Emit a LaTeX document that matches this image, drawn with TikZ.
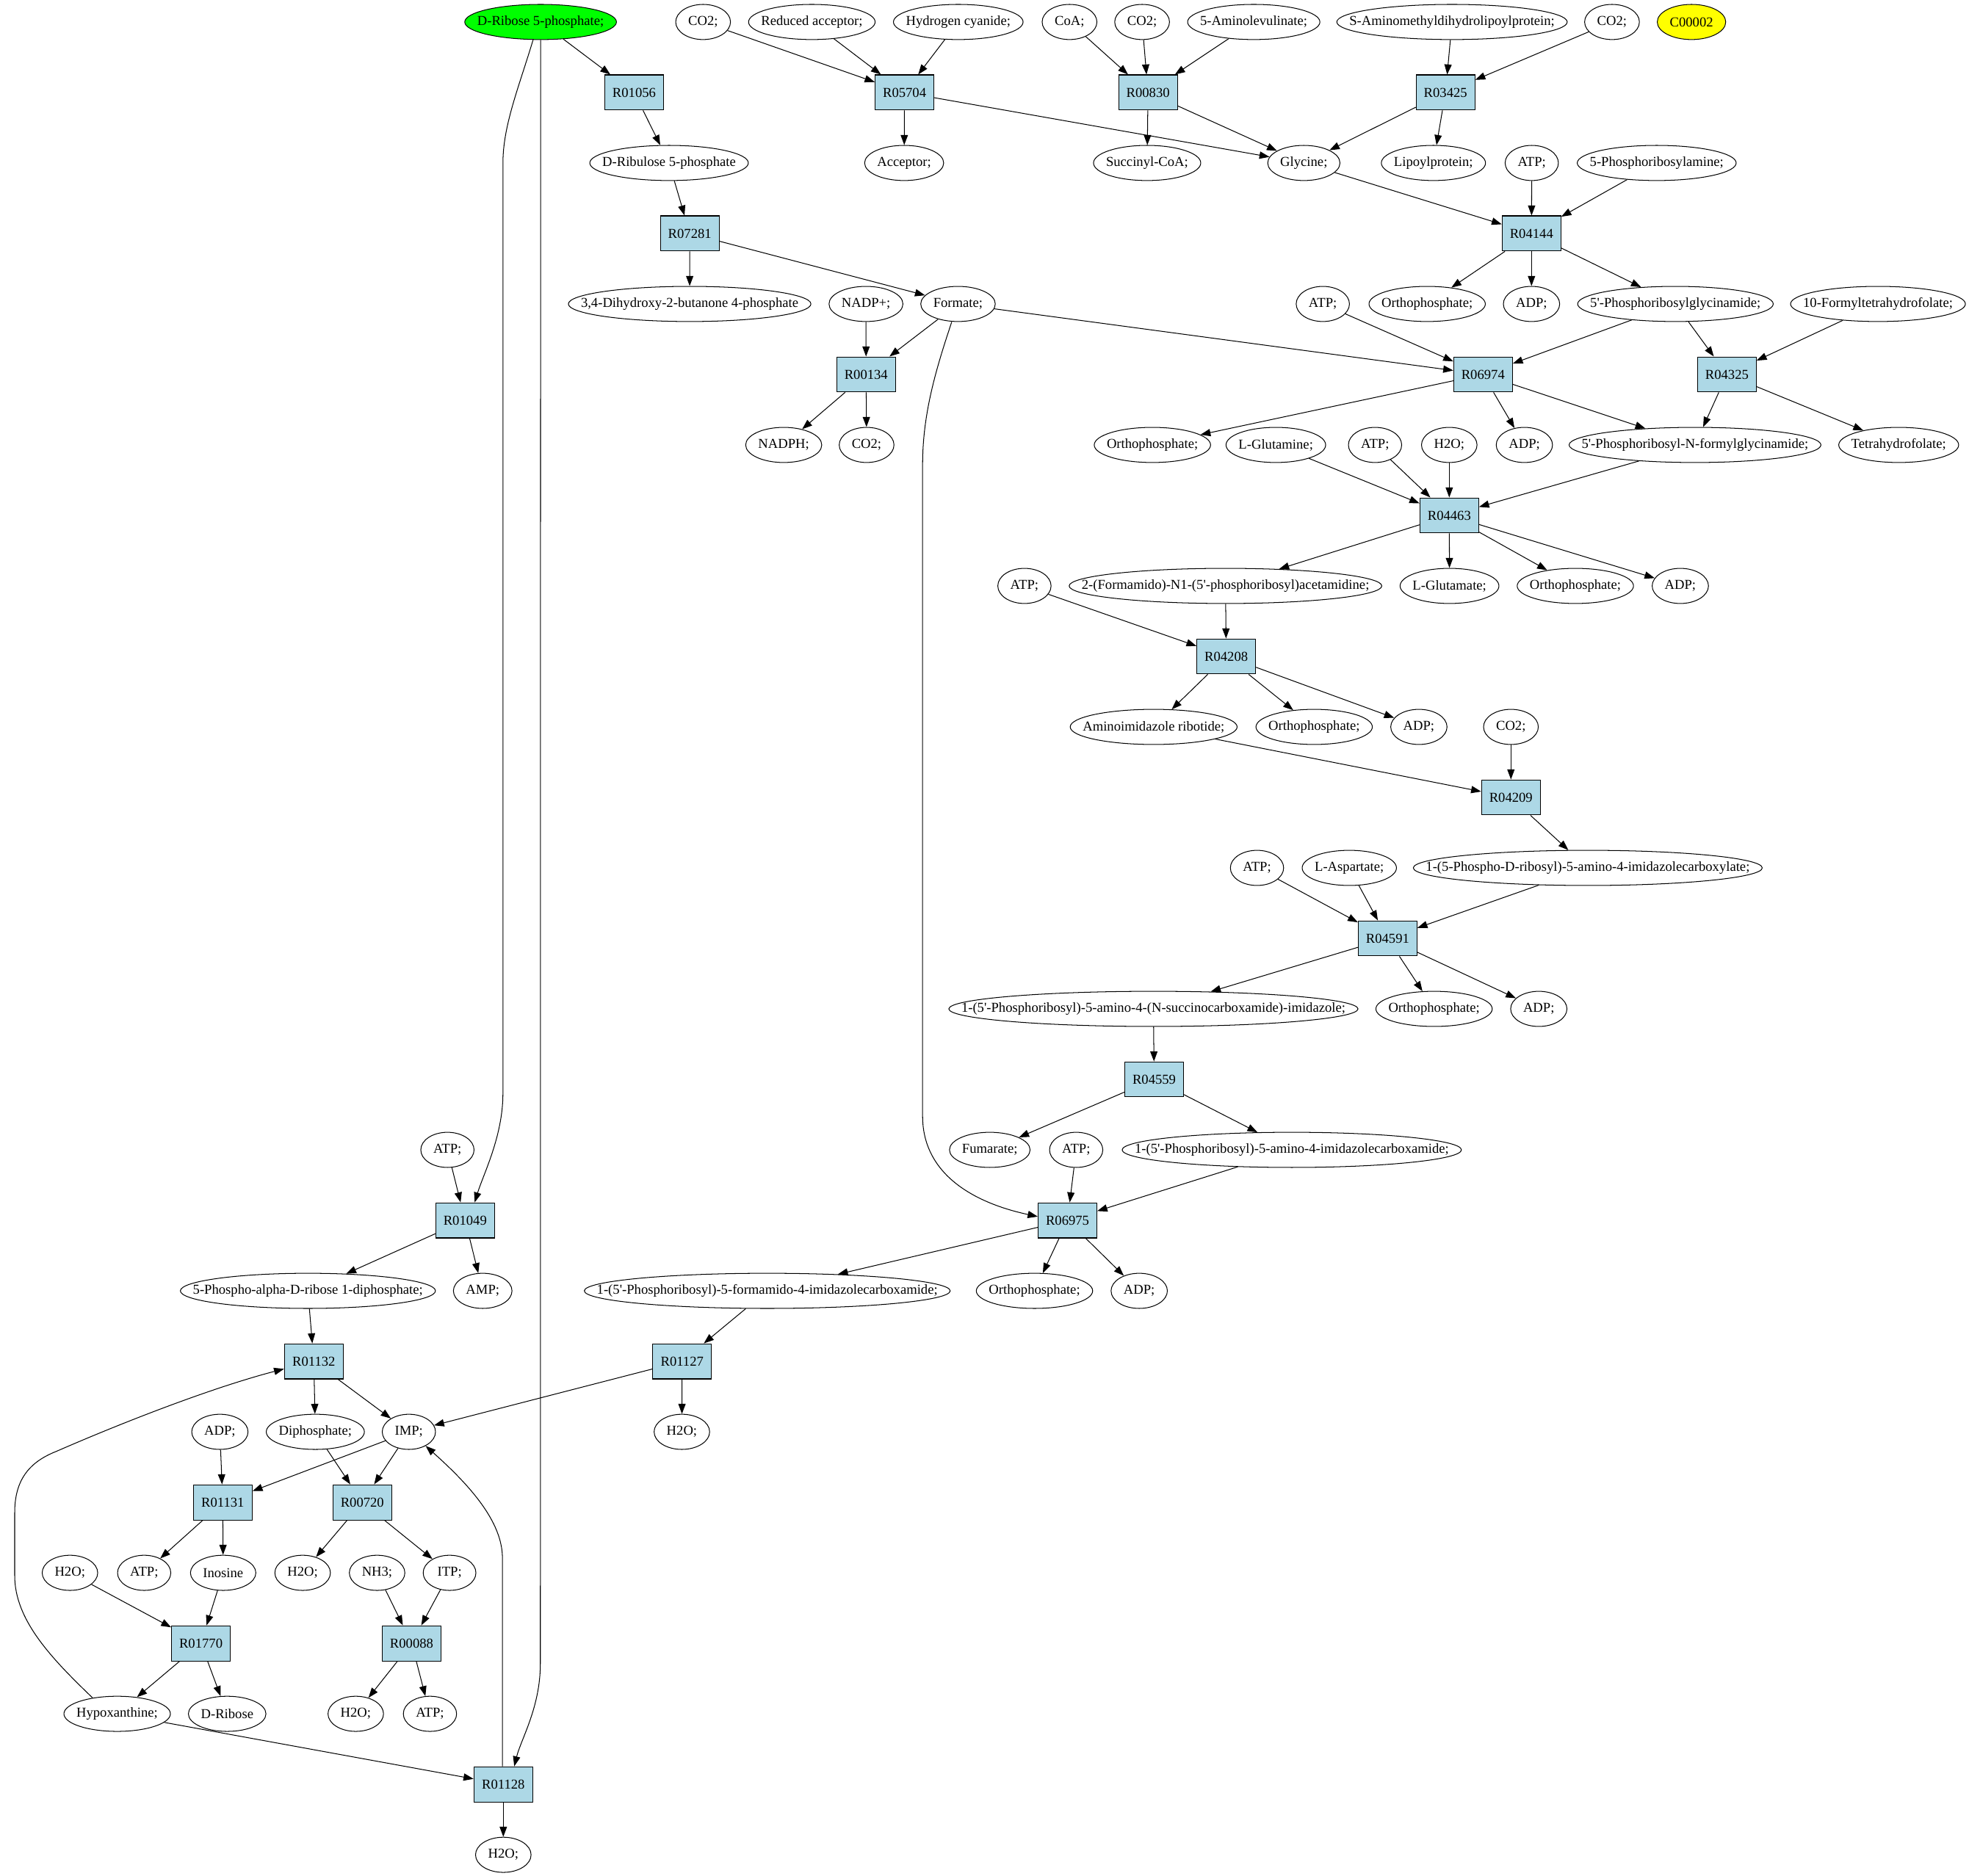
\documentclass[tikz,border=0pt]{standalone}
\usepackage{fontspec}
\setmainfont{Liberation Serif}[Ligatures=TeXOff]
\usetikzlibrary{arrows.meta,shapes.geometric}
\definecolor{rxnblue}{RGB}{173,216,230}
\definecolor{srcgreen}{RGB}{0,255,0}
\definecolor{cpdyellow}{RGB}{255,255,0}
\newcommand\nodefont{\fontsize{10.9}{13}\selectfont}
\newlength\metw
\newbox\metbox
% ellipse node whose width is the label width plus a fixed margin
\newcommand\met[4][]{%
  \pgfinterruptpicture\global\setbox\metbox=\hbox{\nodefont #4}\endpgfinterruptpicture
  \metw=\wd\metbox
  \addtolength\metw{20pt}%
  \ifdim\metw<42pt\relax\metw=42pt\relax\fi
  \node[metab,minimum width=\metw,#1] (#2) at (#3) {\makebox[0pt]{#4}};}
\begin{document}
\begin{tikzpicture}[x=1pt,y=-1pt,
  metab/.style={ellipse,draw,line width=0.6pt,inner sep=0pt,minimum height=28pt,font=\nodefont},
  rxnbox/.style={rectangle,draw,line width=0.6pt,fill=rxnblue,inner sep=0pt,minimum width=46.8pt,minimum height=28pt,font=\nodefont},
  arr/.style={-{Triangle[length=8pt,width=5.8pt]},line width=0.6pt},
]
\useasboundingbox (0,0) rectangle (1568,1494);

% row 0
\met[fill=srcgreen]{rib5p}{430.5,17.5}{D-Ribose 5-phosphate;}
\met{co2a}{559.9,17.5}{CO2;}
\met{redacc}{646.5,17.5}{Reduced acceptor;}
\met{hcn}{763.1,17.5}{Hydrogen cyanide;}
\met{coa}{851.7,17.5}{CoA;}
\met{co2b}{909.5,17.5}{CO2;}
\met{ala}{998.4,17.5}{5-Aminolevulinate;}
\met{samdl}{1156.3,17.5}{S-Aminomethyldihydrolipoylprotein;}
\met{co2c}{1283.7,17.5}{CO2;}
\met[fill=cpdyellow]{cpd2}{1347,17.5}{C00002}
% row 1
\node[rxnbox] (r01056) at (505,73.65) {R01056};
\node[rxnbox] (r05704) at (720.3,73.65) {R05704};
\node[rxnbox] (r00830) at (914.2,73.65) {R00830};
\node[rxnbox] (r03425) at (1151.1,73.65) {R03425};
% row 2
\met{ribu5p}{532.8,129.8}{D-Ribulose 5-phosphate}
\met{acc}{720,129.8}{Acceptor;}
\met{succoa}{913.5,129.8}{Succinyl-CoA;}
\met{gly}{1038.3,129.8}{Glycine;}
\met{lipo}{1141.5,129.8}{Lipoylprotein;}
\met{atpa}{1219.8,129.8}{ATP;}
\met{pra}{1319.3,129.8}{5-Phosphoribosylamine;}
% row 3
\node[rxnbox] (r07281) at (549.3,185.95) {R07281};
\node[rxnbox] (r04144) at (1219.6,185.95) {R04144};
% row 4
\met{dhbp}{549.2,242.1}{3,4-Dihydroxy-2-butanone 4-phosphate}
\met{nadp}{689.6,242.1}{NADP+;}
\met{form}{762.9,242.1}{Formate;}
\met{atpb}{1053.4,242.1}{ATP;}
\met{pia}{1136.5,242.1}{Orthophosphate;}
\met{adpa}{1219.6,242.1}{ADP;}
\met{gar}{1334.2,242.1}{5'-Phosphoribosylglycinamide;}
\met{fthf}{1495.5,242.1}{10-Formyltetrahydrofolate;}
% row 5
\node[rxnbox] (r00134) at (689.7,298.25) {R00134};
\node[rxnbox] (r06974) at (1181,298.25) {R06974};
\node[rxnbox] (r04325) at (1375.2,298.25) {R04325};
% row 6
\met{nadph}{624.1,354.4}{NADPH;}
\met{co2d}{690.1,354.4}{CO2;}
\met{pib}{917.7,354.4}{Orthophosphate;}
\met{gln}{1016,354.4}{L-Glutamine;}
\met{atpc}{1095,354.4}{ATP;}
\met{h2oa}{1154.1,354.4}{H2O;}
\met{adpb}{1213.9,354.4}{ADP;}
\met{fgar}{1349.8,354.4}{5'-Phosphoribosyl-N-formylglycinamide;}
\met{thf}{1512,354.4}{Tetrahydrofolate;}
% row 7
\node[rxnbox] (r04463) at (1154.1,410.55) {R04463};
% row 8
\met{atpd}{815.8,466.7}{ATP;}
\met{fgam}{975.9,466.7}{2-(Formamido)-N1-(5'-phosphoribosyl)acetamidine;}
\met{glu}{1154.3,466.7}{L-Glutamate;}
\met{pic}{1254.5,466.7}{Orthophosphate;}
\met{adpc}{1338.1,466.7}{ADP;}
% row 9
\node[rxnbox] (r04208) at (976.5,522.85) {R04208};
% row 10
\met{air}{918.7,579}{Aminoimidazole ribotide;}
\met{pid}{1046.5,579}{Orthophosphate;}
\met{adpd}{1129.9,579}{ADP;}
\met{co2e}{1203.2,579}{CO2;}
% row 11
\node[rxnbox] (r04209) at (1203.2,635.15) {R04209};
% row 12
\met{atpe}{1001,691.3}{ATP;}
\met{asp}{1074.5,691.3}{L-Aspartate;}
\met{cair}{1264.4,691.3}{1-(5-Phospho-D-ribosyl)-5-amino-4-imidazolecarboxylate;}
% row 13
\node[rxnbox] (r04591) at (1105,747.45) {R04591};
% row 14
\met{saicar}{918.5,803.6}{1-(5'-Phosphoribosyl)-5-amino-4-(N-succinocarboxamide)-imidazole;}
\met{pie}{1142,803.6}{Orthophosphate;}
\met{adpe}{1225.4,803.6}{ADP;}
% row 15
\node[rxnbox] (r04559) at (919.1,859.75) {R04559};
% row 16
\met{atpf}{356.3,915.9}{ATP;}
\met{fum}{788.2,915.9}{Fumarate;}
\met{atpg}{857,915.9}{ATP;}
\met{aicar}{1028.7,915.9}{1-(5'-Phosphoribosyl)-5-amino-4-imidazolecarboxamide;}
% row 17
\node[rxnbox] (r01049) at (370.4,972.05) {R01049};
\node[rxnbox] (r06975) at (850.1,972.05) {R06975};
% row 18
\met{prpp}{245.2,1028.2}{5-Phospho-alpha-D-ribose 1-diphosphate;}
\met{amp}{384.4,1028.2}{AMP;}
\met{faicar}{611,1028.2}{1-(5'-Phosphoribosyl)-5-formamido-4-imidazolecarboxamide;}
\met{pif}{823.8,1028.2}{Orthophosphate;}
\met{adpf}{907.2,1028.2}{ADP;}
% row 19
\node[rxnbox] (r01132) at (249.9,1084.35) {R01132};
\node[rxnbox] (r01127) at (543.2,1084.35) {R01127};
% row 20
\met{adpg}{175.1,1140.5}{ADP;}
\met{ppi}{251.1,1140.5}{Diphosphate;}
\met{imp}{325.6,1140.5}{IMP;}
\met{h2ob}{543,1140.5}{H2O;}
% row 21
\node[rxnbox] (r01131) at (177.4,1196.65) {R01131};
\node[rxnbox] (r00720) at (288.5,1196.65) {R00720};
% row 22
\met{h2oc}{55.7,1252.8}{H2O;}
\met{atph}{114.8,1252.8}{ATP;}
\met{ino}{177.7,1252.8}{Inosine}
\met{h2od}{241,1252.8}{H2O;}
\met{nh3}{300.3,1252.8}{NH3;}
\met{itp}{358,1252.8}{ITP;}
% row 23
\node[rxnbox] (r01770) at (160,1308.95) {R01770};
\node[rxnbox] (r00088) at (327.8,1308.95) {R00088};
% row 24
\met{hyp}{93.3,1365.1}{Hypoxanthine;}
\met{drib}{180.9,1365.1}{D-Ribose}
\met{h2oe}{283.3,1365.1}{H2O;}
\met{atpi}{342.4,1365.1}{ATP;}
% row 25
\node[rxnbox] (r01128) at (400.8,1421.25) {R01128};
% row 26
\met{h2of}{400.8,1477.4}{H2O;}

% ---- straight connectors
\draw[arr] (rib5p) -- (r01056);
\draw[arr] (r01056) -- (ribu5p);
\draw[arr] (ribu5p) -- (r07281);
\draw[arr] (r07281) -- (dhbp);
\draw[arr] (r07281) -- (form);
\draw[arr] (co2a) -- (r05704);
\draw[arr] (redacc) -- (r05704);
\draw[arr] (hcn) -- (r05704);
\draw[arr] (r05704) -- (acc);
\draw[arr] (r05704) -- (gly);
\draw[arr] (coa) -- (r00830);
\draw[arr] (co2b) -- (r00830);
\draw[arr] (ala) -- (r00830);
\draw[arr] (r00830) -- (succoa);
\draw[arr] (r00830) -- (gly);
\draw[arr] (samdl) -- (r03425);
\draw[arr] (co2c) -- (r03425);
\draw[arr] (r03425) -- (gly);
\draw[arr] (r03425) -- (lipo);
\draw[arr] (gly) -- (r04144);
\draw[arr] (atpa) -- (r04144);
\draw[arr] (pra) -- (r04144);
\draw[arr] (r04144) -- (pia);
\draw[arr] (r04144) -- (adpa);
\draw[arr] (r04144) -- (gar);
\draw[arr] (form) -- (r00134);
\draw[arr] (nadp) -- (r00134);
\draw[arr] (r00134) -- (nadph);
\draw[arr] (r00134) -- (co2d);
\draw[arr] (form) -- (r06974);
\draw[arr] (atpb) -- (r06974);
\draw[arr] (gar) -- (r06974);
\draw[arr] (gar) -- (r04325);
\draw[arr] (fthf) -- (r04325);
\draw[arr] (r06974) -- (pib);
\draw[arr] (r06974) -- (adpb);
\draw[arr] (r06974) -- (fgar);
\draw[arr] (r04325) -- (fgar);
\draw[arr] (r04325) -- (thf);
\draw[arr] (gln) -- (r04463);
\draw[arr] (atpc) -- (r04463);
\draw[arr] (h2oa) -- (r04463);
\draw[arr] (fgar) -- (r04463);
\draw[arr] (r04463) -- (fgam);
\draw[arr] (r04463) -- (glu);
\draw[arr] (r04463) -- (pic);
\draw[arr] (r04463) -- (adpc);
\draw[arr] (atpd) -- (r04208);
\draw[arr] (fgam) -- (r04208);
\draw[arr] (r04208) -- (air);
\draw[arr] (r04208) -- (pid);
\draw[arr] (r04208) -- (adpd);
\draw[arr] (air) -- (r04209);
\draw[arr] (co2e) -- (r04209);
\draw[arr] (r04209) -- (cair);
\draw[arr] (atpe) -- (r04591);
\draw[arr] (asp) -- (r04591);
\draw[arr] (cair) -- (r04591);
\draw[arr] (r04591) -- (saicar);
\draw[arr] (r04591) -- (pie);
\draw[arr] (r04591) -- (adpe);
\draw[arr] (saicar) -- (r04559);
\draw[arr] (r04559) -- (fum);
\draw[arr] (r04559) -- (aicar);
\draw[arr] (atpg) -- (r06975);
\draw[arr] (aicar) -- (r06975);
\draw[arr] (r06975) -- (faicar);
\draw[arr] (r06975) -- (pif);
\draw[arr] (r06975) -- (adpf);
\draw[arr] (atpf) -- (r01049);
\draw[arr] (r01049) -- (prpp);
\draw[arr] (r01049) -- (amp);
\draw[arr] (prpp) -- (r01132);
\draw[arr] (r01132) -- (ppi);
\draw[arr] (r01132) -- (imp);
\draw[arr] (faicar) -- (r01127);
\draw[arr] (r01127) -- (imp);
\draw[arr] (r01127) -- (h2ob);
\draw[arr] (adpg) -- (r01131);
\draw[arr] (imp) -- (r01131);
\draw[arr] (r01131) -- (atph);
\draw[arr] (r01131) -- (ino);
\draw[arr] (ppi) -- (r00720);
\draw[arr] (imp) -- (r00720);
\draw[arr] (r00720) -- (h2od);
\draw[arr] (r00720) -- (itp);
\draw[arr] (nh3) -- (r00088);
\draw[arr] (itp) -- (r00088);
\draw[arr] (r00088) -- (h2oe);
\draw[arr] (r00088) -- (atpi);
\draw[arr] (h2oc) -- (r01770);
\draw[arr] (ino) -- (r01770);
\draw[arr] (r01770) -- (hyp);
\draw[arr] (r01770) -- (drib);
\draw[arr] (hyp) -- (r01128);
\draw[arr] (r01128) -- (h2of);

% ---- long routed connectors
\draw[arr] ([xshift=-6pt]rib5p.south) .. controls (413,70) and (400.5,100) .. (400.5,130)
  -- (400.5,871) .. controls (400.5,905) and (385,935) .. ([xshift=7.6pt]r01049.north);
\draw[arr] (rib5p.south) -- (430.3,1325) .. controls (430.3,1360) and (415,1385) .. ([xshift=8.7pt]r01128.north);
\draw[arr] ([xshift=-5pt]form.south) .. controls (745,295) and (734.7,330) .. (734.7,370)
  -- (734.7,889) .. controls (734.7,935) and (775,958) .. ([yshift=3pt]r06975.west);
\draw[arr] (hyp.147) .. controls (40,1320) and (11.7,1290) .. (11.7,1255) -- (11.7,1205)
  .. controls (11.7,1180) and (22,1165) .. (45,1156) .. controls (100,1132) and (170,1105) .. ([yshift=-6pt]r01132.west);
\draw[arr] ([xshift=-0.7pt]r01128.north) -- (400.1,1241) .. controls (400.1,1212) and (374,1183) .. (imp.-40);
\end{tikzpicture}
\end{document}
